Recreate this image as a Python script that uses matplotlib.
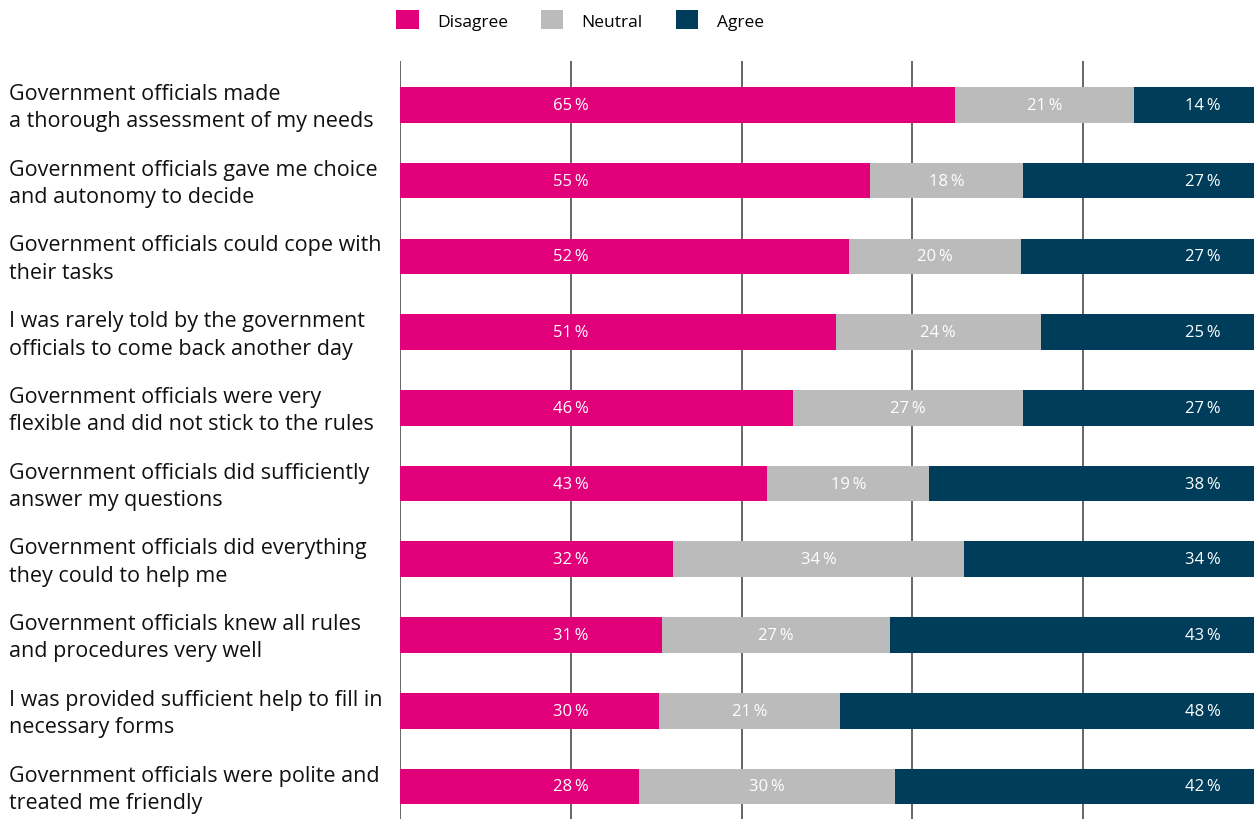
import numpy as np
import matplotlib.pyplot as plt
from matplotlib.patches import Patch
from matplotlib.transforms import blended_transform_factory

plt.rcParams['font.family'] = ['Open Sans', 'DejaVu Sans']

statements = [
    "Government officials made\na thorough assessment of my needs",
    "Government officials gave me choice\nand autonomy to decide",
    "Government officials could cope with\ntheir tasks",
    "I was rarely told by the government\nofficials to come back another day",
    "Government officials were very\nflexible and did not stick to the rules",
    "Government officials did sufficiently\nanswer my questions",
    "Government officials did everything\nthey could to help me",
    "Government officials knew all rules\nand procedures very well",
    "I was provided sufficient help to fill in\nnecessary forms",
    "Government officials were polite and\ntreated me friendly",
]
disagree = [65, 55, 52, 51, 46, 43, 32, 31, 30, 28]
neutral = [21, 18, 20, 24, 27, 19, 34, 27, 21, 30]
agree = [14, 27, 27, 25, 27, 38, 34, 43, 48, 42]

series = ["Disagree", "Neutral", "Agree"]
colors = ["#E2007A", "#BCBBBB", "#003D5B"]

W, H = 1254, 820
fig = plt.figure(figsize=(W / 100, H / 100), dpi=100)
ax = fig.add_axes([400 / W, 0, 1 - 400 / W, (H - 62) / H])

vals = np.array([disagree, neutral, agree], dtype=float)
# rounded shares don't always add to 100, scale each row to fill the bar
shares = vals / vals.sum(axis=0) * 100
y = np.arange(len(statements))

for gx in [0, 20, 40, 60, 80]:
    ax.axvline(gx, color="#5a5a5a", lw=1.3, zorder=0)

left = np.zeros(len(statements))
for i in range(3):
    ax.barh(y, shares[i], left=left, height=0.47, color=colors[i], zorder=2)
    for j in range(len(statements)):
        if i == 0:
            tx = 20
        elif i == 1:
            tx = left[j] + shares[i][j] / 2
        else:
            tx = 94
        ax.text(tx, y[j], f"{int(vals[i][j])}\u2009%", ha="center", va="center",
                color="white", fontsize=12, zorder=3)
    left += shares[i]

ax.set_xlim(0, 100)
ax.set_ylim(9.43, -0.58)
ax.axis("off")

trans = blended_transform_factory(fig.transFigure, ax.transData)
for j, s in enumerate(statements):
    ax.text(9 / W, y[j] + 0.03, s, transform=trans, ha="left", va="center",
            fontsize=15.5, color="#111111", linespacing=1.4)

handles = [Patch(facecolor=c, edgecolor="none") for c in colors]
fig.legend(handles, series, loc="upper left", bbox_to_anchor=(396 / W, 1 - 11 / H),
           ncol=3, frameon=False, fontsize=12.5, handlelength=1.3, handleheight=1.35,
           handletextpad=1.05, columnspacing=1.9, borderpad=0, borderaxespad=0)

fig.savefig("out.png", dpi=100)
